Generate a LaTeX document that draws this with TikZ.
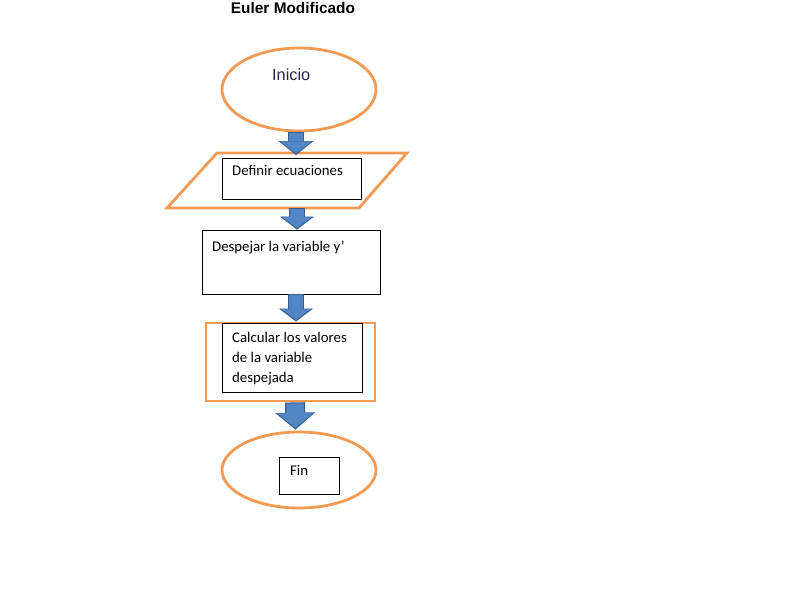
\documentclass[tikz,border=0pt]{standalone}
\usepackage{fontspec}
\setmainfont{Carlito}
\newfontfamily\arialfont{Liberation Sans}
\usetikzlibrary{arrows.meta,shapes.geometric,calc}
\definecolor{orng}{RGB}{242,154,84}
\definecolor{ablue}{RGB}{82,133,196}
\definecolor{adark}{RGB}{56,93,138}
\definecolor{navy}{RGB}{38,38,72}
\begin{document}
\begin{tikzpicture}[x=1pt,y=-1pt,
  oline/.style={draw=orng, line width=2.8pt},
  bbox/.style={draw=black, line width=0.8pt, rectangle, inner sep=0pt},
  txt/.style={inner sep=0pt, anchor=base west, font=\fontsize{14.8}{20}\selectfont},
  arrout/.style={draw=adark},
  arrin/.style={draw=ablue, shorten >=1.6pt, shorten <=1pt}]
\useasboundingbox (0,0) rectangle (800,600);
\fill[white] (0,0) rectangle (800,600);
% title
\node[anchor=base, inner sep=0pt, font=\arialfont\fontsize{15.4}{18}\selectfont\bfseries] (title) at (293,13.5) {Euler Modificado};
% Inicio
\node[ellipse, oline, minimum width=154pt, minimum height=83pt, inner sep=0pt] (inicio) at (299,89.5) {};
\node[anchor=base west, inner sep=0pt, text=navy, font=\arialfont\fontsize{16.3}{19}\selectfont] (iniciotxt) at (272,80) {Inicio};
% parallelogram
\draw[oline, line join=miter] (217,153) -- (407,153) -- (359,208) -- (167,208) -- cycle;
\coordinate (paratop) at (296,155);
\coordinate (parabot) at (297,208);
\node[bbox, minimum width=139pt, minimum height=41pt] (defbox) at (291.5,178.5) {};
\node[txt] (deftxt) at (232,175) {Definir ecuaciones};
% despejar
\node[bbox, minimum width=178pt, minimum height=64pt] (desp) at (291,262) {};
\node[txt] (desptxt) at (212,251) {Despejar la variable y’};
% calcular
\node[rectangle, oline, minimum width=169pt, minimum height=78pt, inner sep=0pt] (calcout) at (290.5,362) {};
\node[bbox, fill=white, minimum width=140pt, minimum height=69pt] (calcin) at (292,357.5) {};
\node[txt] (c1) at (232,342) {Calcular los valores};
\node[txt] (c2) at (232,362) {de la variable};
\node[txt] (c3) at (232,382) {despejada};
% fin
\node[ellipse, oline, minimum width=154pt, minimum height=76pt, inner sep=0pt] (fin) at (299,470) {};
\node[bbox, minimum width=60pt, minimum height=37pt] (finbox) at (309,475.5) {};
\node[txt] (fintxt) at (290,475.5) {Fin};
% block arrows
\draw[arrout, line width=16pt, -{Triangle[width=35pt,length=14pt,line width=0pt]}] ([xshift=-3pt]inicio.south) -- (paratop);
\draw[arrin, line width=13.5pt, -{Triangle[width=31pt,length=12pt,line width=0pt]}] ([xshift=-3pt]inicio.south) -- (paratop);
\draw[arrout, line width=16pt, -{Triangle[width=34pt,length=13pt,line width=0pt]}] (parabot) -- ([xshift=6pt]desp.north);
\draw[arrin, line width=13.5pt, -{Triangle[width=30.5pt,length=11.2pt,line width=0pt]}] (parabot) -- ([xshift=6pt]desp.north);
\draw[arrout, line width=16pt, -{Triangle[width=34pt,length=13pt,line width=0pt]}] ([xshift=5pt]desp.south) -- ([xshift=5.5pt]calcout.north);
\draw[arrin, line width=13.5pt, -{Triangle[width=30.5pt,length=11.2pt,line width=0pt]}] ([xshift=5pt]desp.south) -- ([xshift=5.5pt]calcout.north);
\draw[arrout, line width=20pt, -{Triangle[width=40pt,length=17pt,line width=0pt]}] ([xshift=4.5pt]calcout.south) -- ([xshift=-3.5pt,yshift=1pt]fin.north);
\draw[arrin, line width=17.5pt, -{Triangle[width=36pt,length=15pt,line width=0pt]}] ([xshift=4.5pt]calcout.south) -- ([xshift=-3.5pt,yshift=1pt]fin.north);
\end{tikzpicture}
\end{document}
